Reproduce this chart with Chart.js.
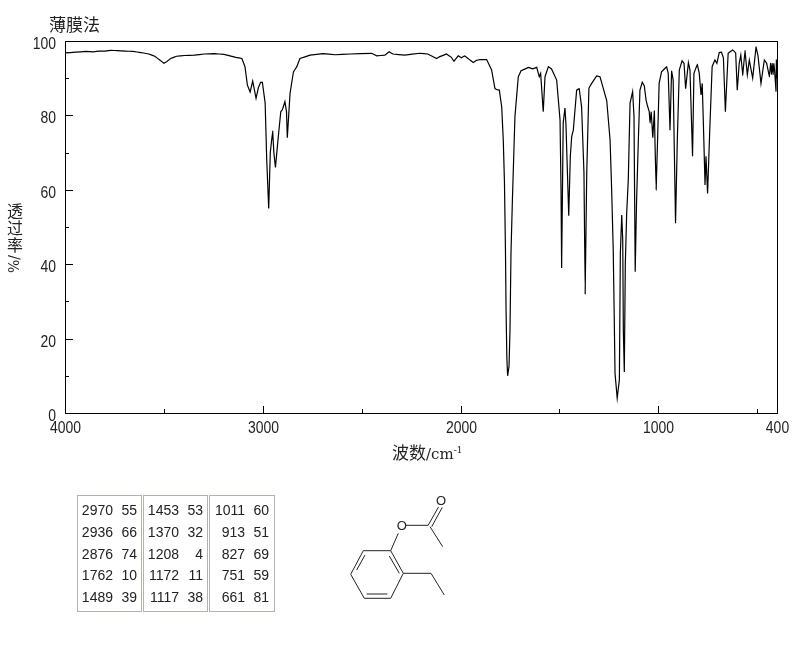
<!DOCTYPE html>
<html lang="zh">
<head>
<meta charset="utf-8">
<title>薄膜法</title>
<script src="https://cdn.jsdelivr.net/npm/chart.js@4/dist/chart.umd.min.js"></script>
<style>
    html, body { margin: 0; padding: 0; background: #fff; }
    #page { position: relative; width: 794px; height: 652px; overflow: hidden; }
    #irChart { position: absolute; left: 0; top: 0; }
    .cjk { position: absolute; font-family: "Noto Sans CJK SC", sans-serif; color: #222; white-space: nowrap; line-height: 1; }
    .peak-box { position: absolute; top: 495px; height: 117px; border: 1px solid #b4b3aa; box-sizing: border-box; padding-top: 4px; }
    .peak-row { display: flex; height: 21.8px; line-height: 21.8px; font: 14px/21.8px "Liberation Sans", sans-serif; color: #222; }
    .peak-row .wn { width: 35px; text-align: right; }
    .peak-row .tr { width: 24px; text-align: right; }
</style>
</head>
<body>
<div id="page">
    <canvas id="irChart" width="794" height="652"></canvas>

    <div class="cjk" style="left:49px; top:15px; font-size:17px;">薄膜法</div>

    <!-- Y axis title: upright characters, then the unit turned sideways -->
    <div class="cjk" style="left:7px; top:202px; font-size:16px;">透</div>
    <div class="cjk" style="left:7px; top:219px; font-size:16px;">过</div>
    <div class="cjk" style="left:7px; top:236px; font-size:16px;">率</div>
    <div class="cjk" style="left:7px; top:257px; font-size:14px; font-family:'DejaVu Serif',serif; transform-origin:8px 8px; transform:rotate(-90deg);">%/</div>

    <div class="cjk" style="left:392px; top:443px; font-size:17px;">波数<span style="font:15px 'DejaVu Serif',serif;">/cm<sup style="font-size:9px; line-height:0;">-1</sup></span></div>

    <div id="peakTable"></div>

    <!-- Structure drawing -->
    <svg style="position:absolute; left:0; top:0;" width="794" height="652" fill="none" stroke="#222" stroke-width="1">
        <path d="M363.3 550.7 L390.7 550.7 L403.3 573.3 L390.7 598.3 L364.3 598.3 L350.7 574.3 Z"/>
        <path d="M365 555 L356.7 570 M389.3 556 L399.3 573.3 M366.7 594 L387.3 594"/>
        <path d="M403.3 573.3 L431 573.3 L444.3 595"/>
        <path d="M390.7 550.7 L398.3 533.3 M406 525.3 L428.3 525.3"/>
        <path d="M428.3 525 L438.5 507 M431.7 526.7 L442.2 507.5 M430 526.7 L442.7 546.7"/>
        <text x="401.7" y="530" font-family="Liberation Sans, sans-serif" font-size="13" fill="#222" stroke="none" text-anchor="middle">O</text>
        <text x="441" y="505" font-family="Liberation Sans, sans-serif" font-size="13" fill="#222" stroke="none" text-anchor="middle">O</text>
    </svg>
</div>

<script>
// --- Spectrum ---
const wavenumbers = [
    4000, 3946, 3896, 3856, 3826, 3796, 3766, 3736, 3696, 3656,
    3616, 3576, 3546, 3521, 3500, 3486, 3466, 3436, 3396, 3346,
    3296, 3246, 3196, 3166, 3136, 3106, 3090, 3078, 3064, 3051,
    3034, 3022, 3011, 3002, 2988, 2980, 2970, 2962, 2950, 2944,
    2936, 2922, 2909, 2901, 2888, 2880, 2876, 2862, 2845, 2828,
    2812, 2761, 2696, 2635, 2559, 2450, 2424, 2383, 2361, 2342,
    2282, 2206, 2166, 2121, 2105, 2071, 2046, 2034, 2012, 1996,
    1979, 1955, 1936, 1920, 1902, 1868, 1843, 1826, 1815, 1804,
    1792, 1784, 1778, 1773, 1770, 1766, 1762, 1755, 1750, 1745,
    1738, 1725, 1708, 1694, 1657, 1635, 1615, 1602, 1595, 1582,
    1573, 1556, 1540, 1514, 1497, 1492, 1489, 1481, 1472, 1467,
    1457, 1453, 1445, 1438, 1430, 1413, 1400, 1388, 1376, 1370,
    1362, 1351, 1337, 1312, 1295, 1278, 1261, 1244, 1236, 1228,
    1223, 1219, 1208, 1197, 1192, 1185, 1180, 1177, 1172, 1167,
    1160, 1152, 1143, 1130, 1123, 1117, 1110, 1101, 1093, 1081,
    1071, 1062, 1056, 1046, 1042, 1036, 1028, 1020, 1017, 1011,
    1004, 996, 984, 958, 950, 941, 933, 925, 913, 904,
    894, 880, 870, 862, 848, 840, 827, 820, 803, 793,
    784, 778, 769, 764, 759, 751, 740, 728, 714, 704,
    692, 681, 671, 661, 647, 624, 609, 601, 591, 583,
    573, 562, 550, 540, 523, 506, 496, 481, 464, 452,
    439, 432, 428, 424, 420, 416, 412, 405, 403, 400
];
const transmittance = [
    96.8, 97, 97.2, 97.1, 97.3, 97.3, 97.5, 97.4, 97.3, 97.2,
    96.9, 96.5, 95.9, 94.9, 94, 94.4, 95.3, 95.9, 96.1, 96.2,
    96.5, 96.6, 96.4, 96, 95.6, 95.3, 93.1, 88.2, 86.3, 89.2,
    84.6, 87.5, 88.9, 88.9, 83.3, 68, 55, 70, 75.8, 70,
    66, 74, 81, 81.5, 83.7, 81, 74, 86, 91.7, 93.1,
    95.3, 96.2, 96.6, 96.3, 96.5, 96.7, 96, 96.2, 97.1, 96.5,
    96.2, 96.7, 96.5, 95.3, 95.8, 96.5, 95.6, 94.5, 96, 95.5,
    96, 95, 94.2, 94.8, 95, 95, 92.2, 87.2, 86.9, 86.8,
    82.3, 73.4, 62, 43.8, 28, 15, 10, 12.5, 22.3, 43,
    57, 79.7, 90.4, 92, 92.9, 92.5, 92.9, 90.4, 91.3, 81,
    90.4, 93.1, 92.5, 89.5, 78.8, 60, 39, 78, 82, 77.4,
    60, 53, 69, 74.3, 76, 86.8, 87.2, 82.3, 64.5, 32,
    64.5, 87.3, 88.6, 90.6, 90.4, 87.2, 84, 73.4, 60, 43.8,
    25.9, 10.7, 4, 8.9, 43, 53.2, 46.5, 22.3, 11, 40,
    53.7, 62.6, 83.3, 86.4, 79.7, 38, 57, 73.4, 86.8, 88.9,
    88, 84.1, 82.8, 81, 78, 81, 74, 81.3, 73, 60,
    73, 88.6, 91.7, 93.1, 91.3, 76, 92, 89.5, 51, 73.4,
    92.2, 94.7, 94, 87.2, 94.2, 92.2, 69, 91.3, 93.7, 91.3,
    85.5, 88.6, 71.6, 61.3, 69, 59, 76, 93.1, 94.9, 94,
    96.9, 97, 95.5, 81, 96.7, 97.6, 96.8, 86.8, 94, 96.2,
    90.9, 97.4, 90.9, 94.9, 90, 98.4, 96, 88.6, 94.9, 94,
    90.4, 94, 91, 94, 91, 94, 92, 86.4, 95, 90
];

// --- Ticks ---
const xTickValues = [4000, 3500, 3000, 2500, 2000, 1500, 1000, 500, 400];
const xTickLabels = [4000, 3000, 2000, 1000, 400];
const xLongTicks = [3000, 2000, 1000];
const yTickValues = [0, 10, 20, 30, 40, 50, 60, 70, 80, 90, 100];
const yTickLabels = [0, 20, 40, 60, 80, 100];

// --- Peak table, three blocks of wavenumber / %T ---
const peakWavenumbers = [
    [2970, 2936, 2876, 1762, 1489],
    [1453, 1370, 1208, 1172, 1117],
    [1011, 913, 827, 751, 661]
];
const peakTransmittance = [
    [55, 66, 74, 10, 39],
    [53, 32, 4, 11, 38],
    [60, 51, 69, 59, 81]
];
const peakBoxLeft = [77, 143, 209];
const peakBoxWidth = [65, 65, 66];

const tableHost = document.getElementById('peakTable');
peakWavenumbers.forEach((col, c) => {
    const box = document.createElement('div');
    box.className = 'peak-box';
    box.style.left = peakBoxLeft[c] + 'px';
    box.style.width = peakBoxWidth[c] + 'px';
    col.forEach((wn, r) => {
        const row = document.createElement('div');
        row.className = 'peak-row';
        row.innerHTML = `<span class="wn">${wn}</span><span class="tr">${peakTransmittance[c][r]}</span>`;
        box.appendChild(row);
    });
    tableHost.appendChild(box);
});

// Narrow tick label: no condensed font is installed, so squeeze it horizontally
function drawNarrowLabel(ctx, text, px, py, align) {
    ctx.save();
    ctx.translate(px, py);
    ctx.scale(0.82, 1);
    ctx.textAlign = align;
    ctx.textBaseline = 'middle';
    ctx.fillText(text, 0, 0);
    ctx.restore();
}

// Frame, inward tick marks and tick labels, taken from the chart's own scales
const frameAndTicks = {
    id: 'frameAndTicks',
    afterDatasetsDraw(chart) {
        const { ctx, chartArea: a, scales: { x, y } } = chart;
        ctx.save();
        ctx.strokeStyle = '#000';
        ctx.fillStyle = '#222';
        ctx.lineWidth = 1;
        ctx.font = '17px "Liberation Sans", sans-serif';
        ctx.strokeRect(a.left + 0.5, a.top + 0.5, a.right - a.left, a.bottom - a.top);
        ctx.beginPath();
        x.ticks.forEach(t => {
            const px = Math.round(x.getPixelForValue(t.value)) + 0.5;
            const len = xLongTicks.includes(t.value) ? 7 : 4;
            ctx.moveTo(px, a.bottom);
            ctx.lineTo(px, a.bottom - len);
            if (xTickLabels.includes(t.value)) drawNarrowLabel(ctx, String(t.value), px, a.bottom + 15, 'center');
        });
        y.ticks.forEach(t => {
            const py = Math.round(y.getPixelForValue(t.value)) + 0.5;
            const len = yTickLabels.includes(t.value) ? 8 : 4;
            ctx.moveTo(a.left, py);
            ctx.lineTo(a.left + len, py);
            if (yTickLabels.includes(t.value)) drawNarrowLabel(ctx, String(t.value), a.left - 9, py + 3, 'right');
        });
        ctx.stroke();
        ctx.restore();
    }
};

new Chart(document.getElementById('irChart'), {
    type: 'scatter',
    data: {
        datasets: [{
            data: wavenumbers.map((w, i) => ({ x: w, y: transmittance[i] })),
            showLine: true,
            borderColor: '#000',
            borderWidth: 1.2,
            pointRadius: 0,
            tension: 0.001 // 0 would switch on Chart.js's fast path, which makes jogs in the narrow peaks
        }]
    },
    options: {
        responsive: false,
        animation: false,
        layout: { padding: { top: 41, right: 17, left: 0, bottom: 0 } },
        plugins: { legend: { display: false }, tooltip: { enabled: false } },
        scales: {
            x: {
                type: 'linear',
                reverse: true,
                min: 400,
                max: 4000,
                grid: { display: false },
                border: { display: false },
                ticks: { display: false },
                afterBuildTicks: s => { s.ticks = xTickValues.map(v => ({ value: v })); },
                afterFit: s => { s.height = 239; }
            },
            y: {
                min: 0,
                max: 100,
                grid: { display: false },
                border: { display: false },
                ticks: { display: false },
                afterBuildTicks: s => { s.ticks = yTickValues.map(v => ({ value: v })); },
                afterFit: s => { s.width = 65; }
            }
        }
    },
    plugins: [frameAndTicks]
});
</script>
</body>
</html>
